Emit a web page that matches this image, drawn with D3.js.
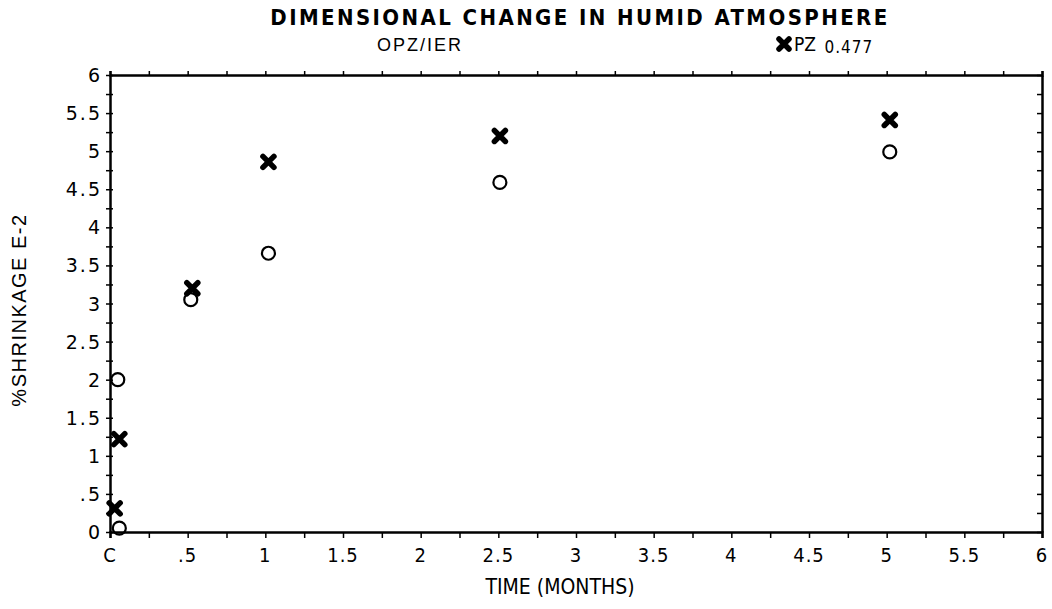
<!DOCTYPE html>
<html>
<head>
<meta charset="utf-8">
<script src="https://cdn.jsdelivr.net/npm/d3@7"></script>
<style>
  body { margin: 0; background: #fff; }
  svg { display: block; }
  text { fill: #000; }
</style>
</head>
<body>
<svg id="chart"></svg>
<script>
// data (time in months, shrinkage in % E-2)
const timeCircle = [0.05, 0.06, 0.52, 1.02, 2.51, 5.02];
const pzIer      = [2.0, 0.05, 3.05, 3.66, 4.59, 4.99];
const timeCross  = [0.03, 0.06, 0.53, 1.02, 2.51, 5.02];
const pz0477     = [0.31, 1.22, 3.2, 4.86, 5.2, 5.41];

const xTicks = [0, 0.5, 1, 1.5, 2, 2.5, 3, 3.5, 4, 4.5, 5, 5.5, 6];
const xTickLabels = ["C", ".5", "1", "1.5", "2", "2.5", "3", "3.5", "4", "4.5", "5", "5.5", "6"];
const yTicks = [0, 0.5, 1, 1.5, 2, 2.5, 3, 3.5, 4, 4.5, 5, 5.5, 6];
const yTickLabels = ["0", ".5", "1", "1.5", "2", "2.5", "3", "3.5", "4", "4.5", "5", "5.5", "6"];
const minorTicks = d3.range(0, 6.01, 0.25);

const width = 1052, height = 609;
const plotLeft = 110, plotRight = 1042, plotTop = 75, plotBottom = 532;
const narrow = "DejaVu Sans Condensed, Liberation Sans, sans-serif";

const svg = d3.select("#chart").attr("width", width).attr("height", height);

const x = d3.scaleLinear().domain([0, 6]).range([plotLeft, plotRight]);
const y = d3.scaleLinear().domain([0, 6]).range([plotBottom, plotTop]);

// bottom axis: ticks down every 0.25, labels every 0.5
svg.append("g")
    .attr("transform", "translate(0," + plotBottom + ")")
    .call(d3.axisBottom(x).tickValues(minorTicks).tickSize(6).tickFormat(""))
    .call(g => g.select(".domain").attr("stroke-width", 2.5))
    .call(g => g.selectAll(".tick line").attr("stroke-width", 1.5));

// top axis: small ticks pointing up
svg.append("g")
    .attr("transform", "translate(0," + plotTop + ")")
    .call(d3.axisTop(x).tickValues(minorTicks).tickSize(4).tickFormat(""))
    .call(g => g.select(".domain").attr("stroke-width", 2.5))
    .call(g => g.selectAll(".tick line").attr("stroke-width", 1.5));

// left axis: small ticks both sides
svg.append("g")
    .attr("transform", "translate(" + plotLeft + ",0)")
    .call(d3.axisLeft(y).tickValues(minorTicks).tickSize(4).tickSizeOuter(0).tickFormat(""))
    .call(g => g.select(".domain").attr("stroke-width", 2.5))
    .call(g => g.selectAll(".tick line").attr("x2", 3).attr("x1", -4).attr("stroke-width", 1.5));

// right axis: ticks pointing into the plot
svg.append("g")
    .attr("transform", "translate(" + plotRight + ",0)")
    .call(d3.axisLeft(y).tickValues(minorTicks).tickSize(5).tickSizeOuter(0).tickFormat(""))
    .call(g => g.select(".domain").attr("stroke-width", 2.5))
    .call(g => g.selectAll(".tick line").attr("stroke-width", 1.5));

// tick labels
svg.append("g").selectAll("text")
    .data(xTicks)
    .enter()
    .append("text")
    .attr("x", d => x(d))
    .attr("y", 562)
    .attr("text-anchor", "middle")
    .attr("font-family", narrow)
    .attr("font-size", 20)
    .attr("letter-spacing", 1)
    .text((d, i) => xTickLabels[i]);

svg.append("g").selectAll("text")
    .data(yTicks)
    .enter()
    .append("text")
    .attr("x", 102)
    .attr("y", d => y(d) + 7)
    .attr("text-anchor", "end")
    .attr("font-family", "DejaVu Sans, sans-serif")
    .attr("font-size", 19)
    .attr("letter-spacing", 2)
    .text((d, i) => yTickLabels[i]);

// titles
svg.append("text")
    .attr("x", 580).attr("y", 25)
    .attr("text-anchor", "middle")
    .attr("font-family", narrow)
    .attr("font-weight", "bold")
    .attr("font-size", 22)
    .attr("letter-spacing", 2.4)
    .text("DIMENSIONAL CHANGE IN  HUMID ATMOSPHERE");

svg.append("text")
    .attr("x", 560).attr("y", 594)
    .attr("text-anchor", "middle")
    .attr("font-family", narrow)
    .attr("font-size", 21)
    .text("TIME (MONTHS)");

svg.append("text")
    .attr("transform", "translate(26,310) rotate(-90)")
    .attr("text-anchor", "middle")
    .attr("font-family", "Liberation Sans, sans-serif")
    .attr("font-size", 20)
    .attr("letter-spacing", 1.5)
    .text("%SHRINKAGE  E-2");

// legend
svg.append("text")
    .attr("x", 377).attr("y", 51)
    .attr("font-family", "Liberation Sans, sans-serif")
    .attr("font-size", 18)
    .attr("letter-spacing", 2)
    .text("OPZ/IER");

function cross(sel, cx, cy, r) {
    sel.append("path")
        .attr("d", "M" + (cx - r) + "," + (cy - r) + "L" + (cx + r) + "," + (cy + r) +
                   "M" + (cx - r) + "," + (cy + r) + "L" + (cx + r) + "," + (cy - r))
        .attr("stroke", "#000")
        .attr("stroke-width", 5.5)
        .attr("stroke-linecap", "round")
        .attr("fill", "none");
}

cross(svg, 784, 44, 5);
let leg = svg.append("text")
    .attr("x", 794).attr("y", 51)
    .attr("font-family", narrow)
    .attr("font-size", 19);
leg.append("tspan").text("PZ ");
leg.append("tspan").attr("font-size", 17).attr("dx", 3).attr("dy", 2).attr("letter-spacing", 1).text("0.477");

// points
svg.append("g").selectAll("circle")
    .data(pzIer)
    .enter()
    .append("circle")
    .attr("cx", (d, i) => x(timeCircle[i]))
    .attr("cy", d => y(d))
    .attr("r", 6.5)
    .attr("fill", "none")
    .attr("stroke", "#000")
    .attr("stroke-width", 2.2);

let crosses = svg.append("g");
pz0477.forEach(function(value, index){
    cross(crosses, x(timeCross[index]), y(value), 5.5);
});
</script>
</body>
</html>
